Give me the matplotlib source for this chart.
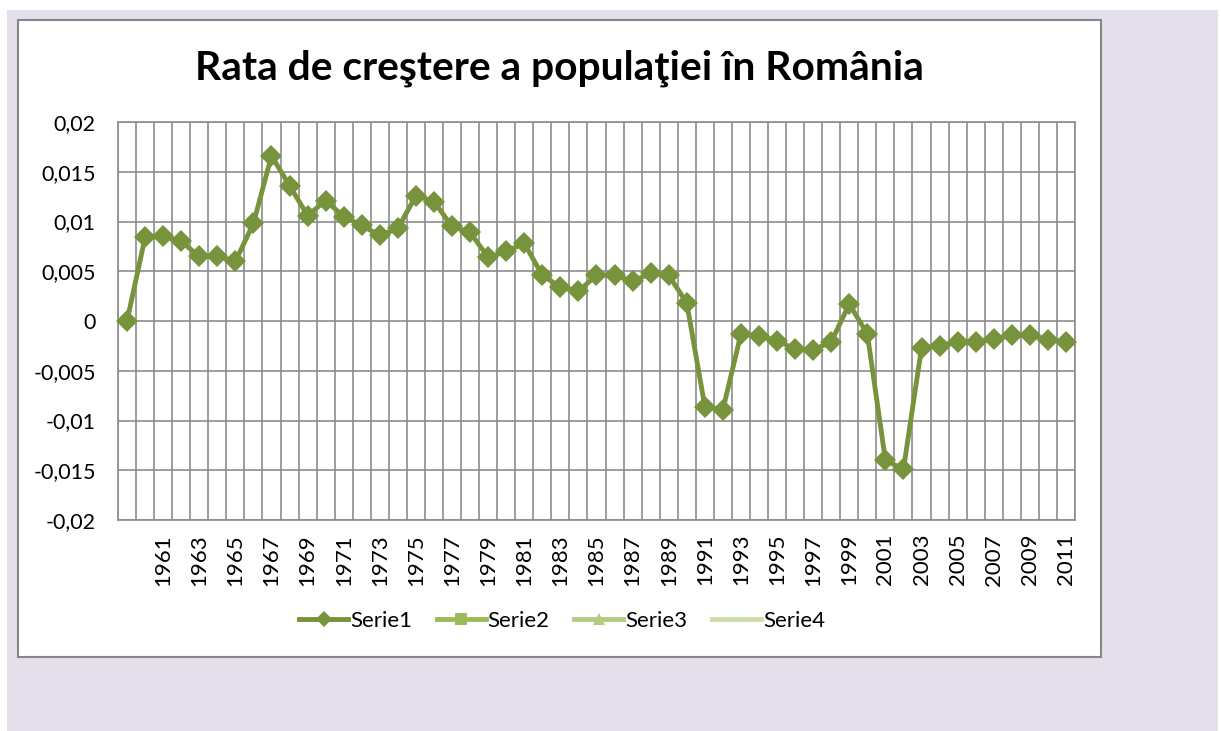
import matplotlib.pyplot as plt
from matplotlib.lines import Line2D
from matplotlib.patches import Rectangle

plt.rcParams['font.family'] = ['Lato', 'DejaVu Sans']

# first category has no label (value 0), then 1960..2011
years = [""] + [str(y) for y in range(1960, 2012)]
rate = [0.0000,
        0.0084, 0.0085, 0.0080, 0.0065, 0.0065, 0.0060, 0.0098, 0.0166, 0.0136, 0.0106,
        0.0121, 0.0105, 0.0096, 0.0086, 0.0093, 0.0126, 0.0120, 0.0095, 0.0089, 0.0064,
        0.0070, 0.0078, 0.0046, 0.0034, 0.0030, 0.0046, 0.0046, 0.0040, 0.0048, 0.0046,
        0.0018, -0.0086, -0.0089, -0.0013, -0.0015, -0.0020, -0.0028, -0.0029, -0.0021, 0.0017,
        -0.0013, -0.0140, -0.0149, -0.0027, -0.0025, -0.0021, -0.0021, -0.0018, -0.0014, -0.0014,
        -0.0019, -0.0021]
series_names = ["Serie1", "Serie2", "Serie3", "Serie4"]
yticks = [-0.02, -0.015, -0.01, -0.005, 0, 0.005, 0.01, 0.015, 0.02]

W, H = 1221, 731
fig = plt.figure(figsize=(W / 100, H / 100), dpi=100, facecolor="white")

# lavender background and white chart area
fig.patches.append(Rectangle((7 / W, 0), (W - 10) / W, (H - 10) / H, transform=fig.transFigure,
                             facecolor="#e5dfec", edgecolor="none", zorder=0))
fig.patches.append(Rectangle((18 / W, (H - 657) / H), (1101 - 18) / W, (657 - 20) / H,
                             transform=fig.transFigure, facecolor="white",
                             edgecolor="#868686", linewidth=1.5, zorder=1))

ax = fig.add_axes([118 / W, (H - 520) / H, 957 / W, 398 / H])
ax.set_zorder(2)

x = list(range(len(years)))
ax.plot(x, rate, color="#77933c", linewidth=3.5, marker="D", markersize=11,
        markeredgewidth=0, zorder=3, clip_on=False)

ax.set_xlim(-0.5, len(years) - 0.5)
ax.set_ylim(-0.02, 0.02)
ax.set_yticks(yticks)
ax.set_yticklabels([("%g" % v).replace(".", ",") for v in yticks], fontsize=15.5)

# every second category label, rotated like Excel
ax.set_xticks(x[::2])
ax.set_xticklabels(years[::2], rotation=90, fontsize=16)
ax.set_xticks([i - 0.5 for i in range(len(years) + 1)], minor=True)
ax.tick_params(axis="both", which="both", length=0)
ax.tick_params(axis="x", pad=10)
ax.tick_params(axis="y", pad=16)

ax.grid(True, axis="y", which="major", color="#8c8c8c", linewidth=1.2)
ax.grid(True, axis="x", which="minor", color="#8c8c8c", linewidth=1.2)
ax.set_axisbelow(True)
for s in ax.spines.values():
    s.set_color("#8c8c8c")
    s.set_linewidth(1.2)

fig.text(559 / W, 1 - 68 / H, "Rata de creştere a populaţiei în România",
         ha="center", va="center", fontsize=29.3, fontweight="bold")

handles = [
    Line2D([], [], color="#77933c", linewidth=3.5, marker="D", markersize=8, markeredgewidth=0),
    Line2D([], [], color="#9bbb59", linewidth=3.5, marker="s", markersize=9, markeredgewidth=0),
    Line2D([], [], color="#b3cc82", linewidth=3.5, marker="^", markersize=9, markeredgewidth=0),
    Line2D([], [], color="#cddeac", linewidth=3.5),
]
fig.legend(handles, series_names, loc="center", bbox_to_anchor=(562 / W, 1 - 621 / H),
           ncol=4, frameon=False, fontsize=16, handlelength=2.2, handletextpad=0.1,
           columnspacing=1.1)

fig.savefig("out.png", dpi=100, facecolor=fig.get_facecolor())
